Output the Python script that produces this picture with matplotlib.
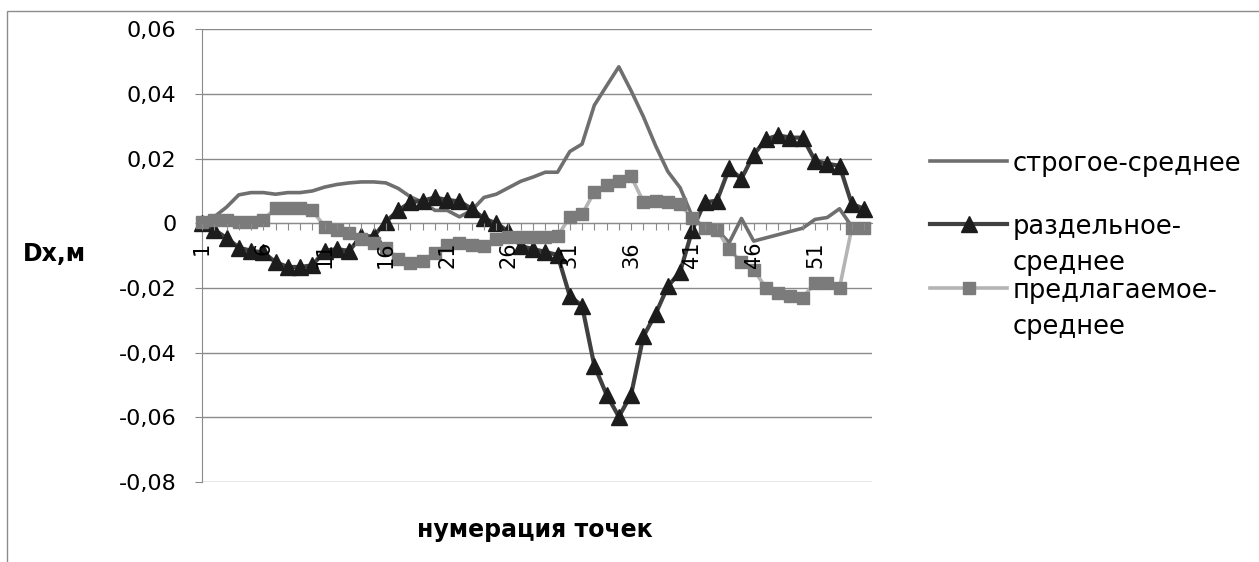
import matplotlib

matplotlib.use("Agg")
import matplotlib.pyplot as plt
from matplotlib.offsetbox import HPacker
from matplotlib.patches import Rectangle
from matplotlib.ticker import FuncFormatter

# point numbers along the x axis (category axis)
points = list(range(1, 56))
label_every = 5

strict_mean = [
    0.0000, 0.0020, 0.0050, 0.0088, 0.0095, 0.0095, 0.0090, 0.0095, 0.0095, 0.0100,
    0.0112, 0.0120, 0.0125, 0.0128, 0.0128, 0.0125, 0.0108, 0.0082, 0.0065, 0.0040,
    0.0040, 0.0020, 0.0040, 0.0080, 0.0090, 0.0110, 0.0130, 0.0143, 0.0158, 0.0158,
    0.0222, 0.0245, 0.0365, 0.0425, 0.0484, 0.0410, 0.0330, 0.0240, 0.0160, 0.0110,
    0.0020, -0.0015, -0.0020, -0.0060, 0.0015, -0.0055, -0.0045, -0.0035, -0.0025, -0.0015,
    0.0012, 0.0018, 0.0045, -0.0010, -0.0020,
]
separate_mean = [
    0.0000, -0.0020, -0.0045, -0.0075, -0.0085, -0.0090, -0.0120, -0.0135, -0.0135, -0.0130,
    -0.0085, -0.0080, -0.0085, -0.0040, -0.0040, 0.0005, 0.0040, 0.0065, 0.0070, 0.0080,
    0.0072, 0.0068, 0.0045, 0.0015, 0.0000, -0.0025, -0.0070, -0.0080, -0.0088, -0.0098,
    -0.0225, -0.0255, -0.0440, -0.0530, -0.0598, -0.0530, -0.0350, -0.0280, -0.0195, -0.0150,
    -0.0020, 0.0065, 0.0070, 0.0170, 0.0138, 0.0212, 0.0260, 0.0272, 0.0265, 0.0265,
    0.0194, 0.0184, 0.0178, 0.0060, 0.0045,
]
proposed_mean = [
    0.0005, 0.0010, 0.0010, 0.0005, 0.0005, 0.0010, 0.0048, 0.0048, 0.0048, 0.0040,
    -0.0010, -0.0020, -0.0030, -0.0050, -0.0060, -0.0075, -0.0110, -0.0122, -0.0117, -0.0092,
    -0.0066, -0.0062, -0.0066, -0.0070, -0.0050, -0.0042, -0.0042, -0.0042, -0.0042, -0.0040,
    0.0020, 0.0028, 0.0097, 0.0120, 0.0130, 0.0145, 0.0067, 0.0070, 0.0067, 0.0060,
    0.0015, -0.0015, -0.0020, -0.0080, -0.0120, -0.0143, -0.0200, -0.0214, -0.0224, -0.0230,
    -0.0184, -0.0184, -0.0200, -0.0015, -0.0015,
]
series_names = ["строгое-среднее", "раздельное-\nсреднее", "предлагаемое-\nсреднее"]
y_ticks = [-0.08, -0.06, -0.04, -0.02, 0.0, 0.02, 0.04, 0.06]

W, H = 1259, 562
GRID = "#8a8a8a"

fig = plt.figure(figsize=(W / 100, H / 100), dpi=100)
ax = fig.add_axes([202 / W, 1 - 482 / H, 670 / W, 452.7 / H])

ax.plot(points, strict_mean, color="#6f6f6f", lw=2.6, zorder=3, clip_on=False,
        label=series_names[0])
ax.plot(points, separate_mean, color="#404040", lw=3, marker="^", ms=11.5,
        mfc="#1c1c1c", mec="#1c1c1c", zorder=4, clip_on=False, label=series_names[1])
ax.plot(points, proposed_mean, color="#b4b4b4", lw=2.6, marker="s", ms=9,
        mfc="#7b7b7b", mec="#7b7b7b", zorder=5, clip_on=False, label=series_names[2])

ax.set_xlim(1, 55.65)
ax.set_ylim(y_ticks[0], y_ticks[-1])
ax.set_yticks(y_ticks)
ax.yaxis.set_major_formatter(
    FuncFormatter(lambda v, _: "0" if abs(v) < 1e-12 else f"{v:.2f}".replace(".", ",")))
ax.set_xticks(points)
ax.set_xticklabels([str(p) if (p - 1) % label_every == 0 else "" for p in points])
ax.grid(axis="y", color=GRID, lw=1)
ax.set_axisbelow(True)
ax.xaxis.set_zorder(6)  # category labels sit on top of the curves, as in Excel

for side in ("top", "right"):
    ax.spines[side].set_visible(False)
ax.spines["bottom"].set_position(("data", 0))
ax.spines["bottom"].set_color(GRID)
ax.spines["left"].set_color(GRID)
ax.tick_params(axis="y", length=5, color=GRID, labelsize=16, pad=13.5)
ax.tick_params(axis="x", length=5, color=GRID, labelsize=15, pad=8, labelrotation=90)

fig.text(54.5 / W, 1 - 254 / H, "Dx,м", fontsize=17, fontweight="bold",
         ha="center", va="center")
fig.text(535 / W, 1 - 530 / H, "нумерация точек", fontsize=17, fontweight="bold",
         ha="center", va="center")

handles, labels = ax.get_legend_handles_labels()
labels = [lb if "\n" in lb else lb + "\n" for lb in labels]
leg = fig.legend(handles, labels, loc="upper left",
                 bbox_to_anchor=(930 / W, 1 - 151 / H), bbox_transform=fig.transFigure,
                 frameon=False, fontsize=18.5, handlelength=3.0, handletextpad=0.22,
                 handleheight=1.0, labelspacing=0.05, borderpad=0, borderaxespad=0)
for t in leg.get_texts():
    t.set_linespacing(1.5)
for box in leg.findobj(HPacker):
    box.align = "top"

# chart-area border (Excel style, runs off the right/bottom edge)
fig.add_artist(Rectangle((7 / W, -0.5), 2, 0.5 + 1 - 11 / H, transform=fig.transFigure,
                         fill=False, edgecolor="#8c8c8c", lw=1))

fig.savefig("out.png", dpi=100)
